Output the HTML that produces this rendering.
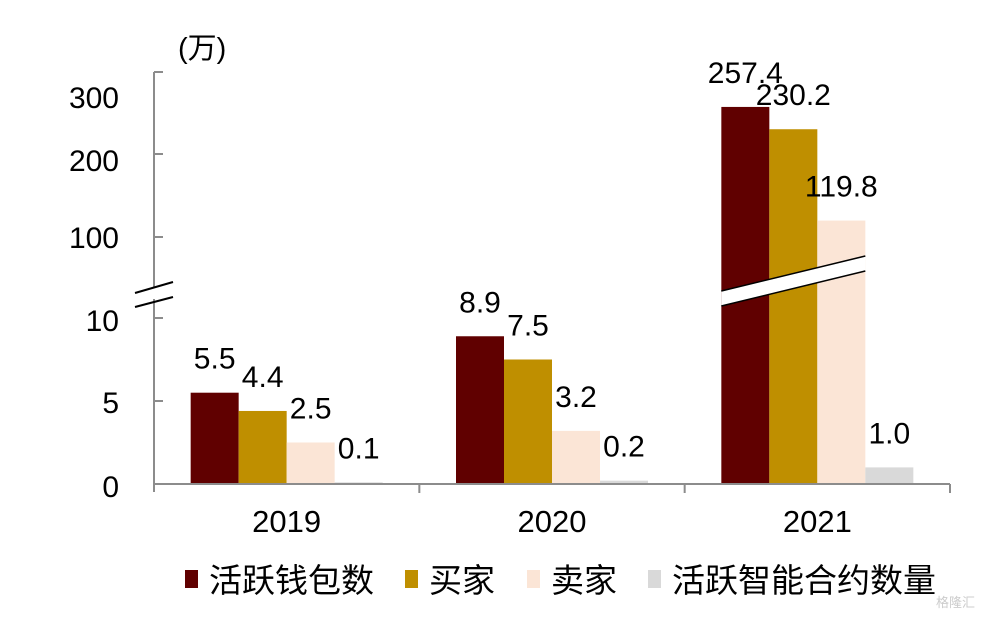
<!DOCTYPE html>
<html><head><meta charset="utf-8">
<style>
html,body{margin:0;padding:0;background:#fff;}
svg{display:block;font-family:"Liberation Sans","Noto Sans CJK SC",sans-serif;}
</style></head>
<body>
<svg id="chart" width="985" height="617" viewBox="0 0 985 617">
<text x="178" y="58" font-size="29" fill="#000">(万)</text>
<g id="plot"></g>
<g id="axes"></g>
<g id="legend"></g>
<text x="975" y="607" font-size="13" fill="#ccc" text-anchor="end">格隆汇</text>
</svg>
<script>
const categories = ["2019","2020","2021"];
const seriesNames = ["活跃钱包数","买家","卖家","活跃智能合约数量"];
const wallets = [5.5, 8.9, 257.4];
const buyers = [4.4, 7.5, 230.2];
const sellers = [2.5, 3.2, 119.8];
const contracts = [0.1, 0.2, 1.0];
const tickValues = [0,5,10,100,200,300];
const tickLabels = ["0","5","10","100","200","300"];

const colors = ["#600000","#BF8F00","#FBE5D6","#D9D9D9"];
const series = [wallets, buyers, sellers, contracts];
const NS = "http://www.w3.org/2000/svg";
function mk(tag, attrs, parent){const e=document.createElementNS(NS,tag);for(const k in attrs)e.setAttribute(k,attrs[k]);parent.appendChild(e);return e;}

const y0 = 484, pxPerUnit = 16.6;
const knotsV = [10,100,200,300], knotsP = [318,237,154,72];
function yScale(v){
  if(v<=10) return y0 - v*pxPerUnit;
  for(let i=0;i<knotsV.length-1;i++){
    if(v<=knotsV[i+1]||i===knotsV.length-2){
      const t=(v-knotsV[i])/(knotsV[i+1]-knotsV[i]);
      return knotsP[i]+t*(knotsP[i+1]-knotsP[i]);
    }
  }
}
const axX = 154, axEnd = 950;
const band = (axEnd-axX)/categories.length;
const barW = 48;
function xBar(ci, si){ const c = axX + band*(ci+0.5); return c - 2*barW + si*barW; }

const plot = document.getElementById('plot');
const axes = document.getElementById('axes');
const legend = document.getElementById('legend');

series.forEach((vals, si)=>{
  vals.forEach((v, ci)=>{
    const x=xBar(ci,si), y=yScale(v);
    const r=mk('rect',{x:x,y:y,width:barW,height:Math.max(0,y0-y),fill:colors[si]},plot);
    
    
    const t=mk('text',{x:x+barW/2,y:y-24,'font-size':30,'text-anchor':'middle',fill:'#000'},plot);
    t.textContent=v.toFixed(1);
    
    
  });
});

const bx1 = xBar(2,0), bx2 = xBar(2,2)+barW;
const band1 = mk('polygon',{points:`${bx1},291 ${bx2},256 ${bx2},271 ${bx1},306`,fill:'#fff'},plot);


[[291,256],[306,271]].forEach(p=>{
  const l=mk('line',{x1:bx1,y1:p[0],x2:bx2,y2:p[1],stroke:'#000','stroke-width':1.5},plot);
  
  
});

const g='#8c8c8c';
let l1=mk('line',{x1:axX,y1:72,x2:axX,y2:287,stroke:g,'stroke-width':2},axes);


let l2=mk('line',{x1:axX,y1:299,x2:axX,y2:492,stroke:g,'stroke-width':2},axes);


[[293,282],[307,297]].forEach(p=>{
  const l=mk('line',{x1:135,y1:p[0],x2:173,y2:p[1],stroke:'#000','stroke-width':2},axes);
  
  
});
const labelShift=[2,1,2,0,6,25];
tickValues.forEach((v,i)=>{
  const y=yScale(v);
  const tk=mk('line',{x1:axX,y1:y,x2:axX+9,y2:y,stroke:g,'stroke-width':2},axes);
  
  
  const t=mk('text',{x:119,y:y+labelShift[i]+11,'font-size':30,'text-anchor':'end',fill:'#000'},axes);
  t.textContent=tickLabels[i];
  
  
});
let xa=mk('line',{x1:axX,y1:y0,x2:axEnd,y2:y0,stroke:g,'stroke-width':2},axes);


for(let i=1;i<=categories.length;i++){
  const x=axX+band*i;
  const tk=mk('line',{x1:x,y1:y0,x2:x,y2:y0+9,stroke:g,'stroke-width':2},axes);
  
  
}
categories.forEach((c,i)=>{
  const t=mk('text',{x:axX+band*(i+0.5),y:532,'font-size':31,'text-anchor':'middle',fill:'#000'},axes);
  t.textContent=c;
  
  
});
const legX=[185,405,527,648];
seriesNames.forEach((n,i)=>{
  const r=mk('rect',{x:legX[i],y:570,width:13,height:18,fill:colors[i]},legend);
  
  
  const t=mk('text',{x:legX[i]+24,y:592,'font-size':33,fill:'#000'},legend);
  t.textContent=n;
  
  
});
</script>
</body></html>
